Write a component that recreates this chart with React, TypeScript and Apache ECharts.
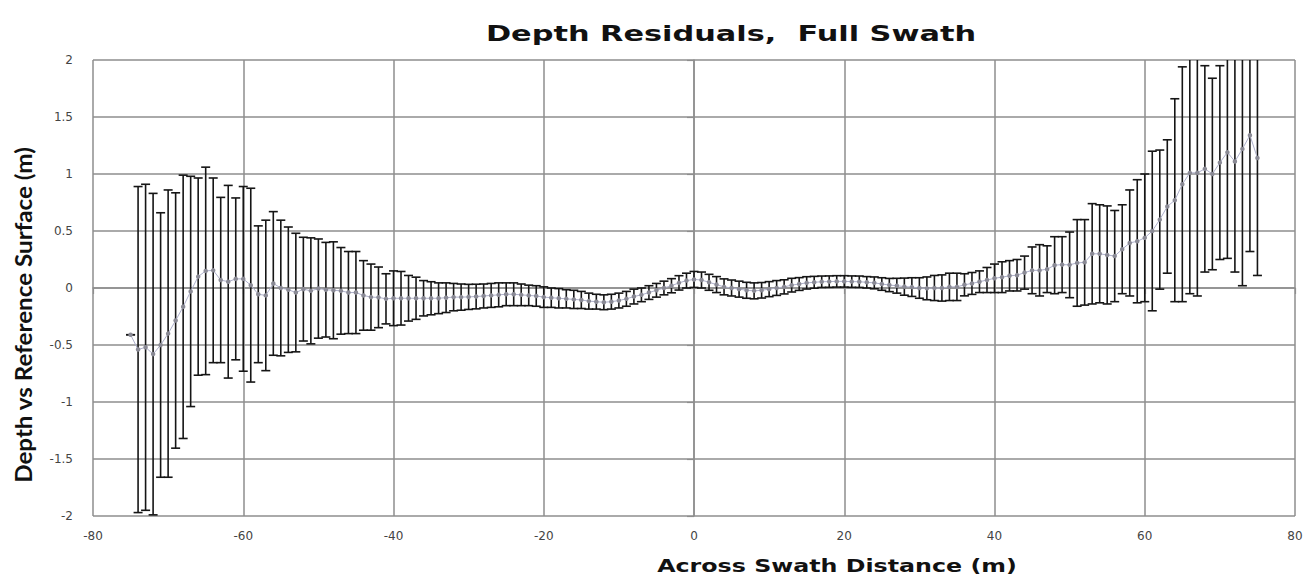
import React, { useEffect, useRef } from "react";
import * as echarts from "echarts";

const TITLE = "Depth Residuals,  Full Swath";
const X_NAME = "Across Swath Distance (m)";
const Y_NAME = "Depth vs Reference Surface (m)";

const X_TICKS = [-80, -60, -40, -20, 0, 20, 40, 60, 80];
const Y_TICKS = [-2, -1.5, -1, -0.5, 0, 0.5, 1, 1.5, 2];

// Across-swath distance (m)
const distances = [
  -75, -74, -73, -72, -71, -70, -69, -68, -67, -66, -65, -64, -63, -62, -61, -60,
  -59, -58, -57, -56, -55, -54, -53, -52, -51, -50, -49, -48, -47, -46, -45, -44,
  -43, -42, -41, -40, -39, -38, -37, -36, -35, -34, -33, -32, -31, -30, -29, -28,
  -27, -26, -25, -24, -23, -22, -21, -20, -19, -18, -17, -16, -15, -14, -13, -12,
  -11, -10, -9, -8, -7, -6, -5, -4, -3, -2, -1, 0, 1, 2, 3, 4,
  5, 6, 7, 8, 9, 10, 11, 12, 13, 14, 15, 16, 17, 18, 19, 20,
  21, 22, 23, 24, 25, 26, 27, 28, 29, 30, 31, 32, 33, 34, 35, 36,
  37, 38, 39, 40, 41, 42, 43, 44, 45, 46, 47, 48, 49, 50, 51, 52,
  53, 54, 55, 56, 57, 58, 59, 60, 61, 62, 63, 64, 65, 66, 67, 68,
  69, 70, 71, 72, 73, 74, 75,
];

// Mean depth residual (m)
const meanResidual = [
  -0.41, -0.54, -0.52, -0.58, -0.5, -0.4, -0.285, -0.165, -0.03, 0.1, 0.15, 0.155, 0.07, 0.055, 0.08, 0.08,
  0.025, -0.055, -0.065, 0.04, 0.0, -0.015, -0.04, -0.01, -0.025, -0.005, -0.015, -0.02, -0.025, -0.04, -0.04, -0.065,
  -0.08, -0.082, -0.095, -0.09, -0.09, -0.09, -0.09, -0.09, -0.09, -0.09, -0.085, -0.08, -0.08, -0.078, -0.075, -0.07,
  -0.065, -0.06, -0.055, -0.055, -0.06, -0.065, -0.07, -0.08, -0.085, -0.09, -0.095, -0.1, -0.105, -0.115, -0.12, -0.125,
  -0.12, -0.11, -0.095, -0.075, -0.06, -0.04, -0.02, 0.0, 0.02, 0.045, 0.065, 0.075, 0.07, 0.05, 0.03, 0.01,
  0.0, -0.01, -0.02, -0.025, -0.02, -0.01, 0.0, 0.01, 0.025, 0.035, 0.045, 0.05, 0.055, 0.056, 0.058, 0.058,
  0.056, 0.055, 0.05, 0.045, 0.035, 0.026, 0.02, 0.012, 0.008, 0.0, -0.003, 0.0, 0.0, 0.01, 0.01, 0.028,
  0.04, 0.055, 0.07, 0.085, 0.095, 0.107, 0.112, 0.135, 0.155, 0.155, 0.165, 0.2, 0.205, 0.203, 0.22, 0.225,
  0.3, 0.3, 0.29, 0.28, 0.34, 0.395, 0.41, 0.44, 0.5, 0.6, 0.715, 0.77, 0.91, 1.01, 1.01, 1.045,
  1.0, 1.1, 1.19, 1.11, 1.22, 1.34, 1.14,
];

// Half-width of the error bar (m)
const errorHalf = [
  0, 1.43, 1.43, 1.41, 1.16, 1.26, 1.12, 1.155, 1.01, 0.865, 0.91, 0.81, 0.725, 0.845, 0.71, 0.81,
  0.85, 0.6, 0.66, 0.63, 0.595, 0.55, 0.52, 0.455, 0.465, 0.435, 0.415, 0.425, 0.38, 0.36, 0.36, 0.305,
  0.29, 0.266, 0.22, 0.24, 0.235, 0.2, 0.185, 0.155, 0.145, 0.135, 0.13, 0.12, 0.115, 0.11, 0.108, 0.105,
  0.105, 0.105, 0.1, 0.1, 0.095, 0.09, 0.09, 0.09, 0.085, 0.085, 0.08, 0.08, 0.075, 0.07, 0.065, 0.065,
  0.065, 0.065, 0.065, 0.065, 0.06, 0.06, 0.06, 0.06, 0.062, 0.063, 0.065, 0.07, 0.07, 0.07, 0.07, 0.07,
  0.07, 0.07, 0.07, 0.07, 0.068, 0.066, 0.065, 0.062, 0.06, 0.056, 0.054, 0.052, 0.05, 0.05, 0.05, 0.05,
  0.05, 0.05, 0.05, 0.052, 0.055, 0.058, 0.065, 0.075, 0.082, 0.09, 0.1, 0.11, 0.115, 0.12, 0.12, 0.097,
  0.096, 0.095, 0.11, 0.125, 0.135, 0.133, 0.138, 0.145, 0.205, 0.225, 0.205, 0.25, 0.245, 0.288, 0.38, 0.375,
  0.44, 0.43, 0.43, 0.4, 0.39, 0.465, 0.54, 0.56, 0.7, 0.61, 0.585, 0.89, 1.03, 1.06, 1.08, 0.905,
  0.84, 0.85, 0.93, 0.97, 1.2, 1.02, 1.03,
];

export default function App() {
  const ref = useRef<HTMLDivElement>(null);

  useEffect(() => {
    if (!ref.current) return;
    const chart = echarts.init(ref.current, null, { renderer: "svg" });

    const errData = distances.map((d, i) => [d, meanResidual[i], errorHalf[i]]);
    const meanData = distances.map((d, i) => [d, meanResidual[i]]);
    const gridColor = "#8e8e8e";

    const option: any = {
      animation: false,
      backgroundColor: "#ffffff",
      grid: { left: 93, right: 17, top: 60, bottom: 61, containLabel: false },
      graphic: [
        {
          type: "text",
          x: 731,
          y: 33,
          scaleX: 1.38,
          style: {
            text: TITLE,
            fill: "#111",
            font: "bold 22px 'DejaVu Sans'",
            textAlign: "center",
            textVerticalAlign: "middle",
          },
        },
        {
          type: "text",
          x: 837,
          y: 566,
          scaleX: 1.32,
          style: {
            text: X_NAME,
            fill: "#111",
            font: "bold 18px 'DejaVu Sans'",
            textAlign: "center",
            textVerticalAlign: "middle",
          },
        },
        {
          type: "text",
          x: 23,
          y: 315,
          rotation: Math.PI / 2,
          scaleX: 1.1,
          style: {
            text: Y_NAME,
            fill: "#111",
            font: "bold 22px Lato",
            textAlign: "center",
            textVerticalAlign: "middle",
          },
        },
      ],
      xAxis: {
        type: "value",
        min: X_TICKS[0],
        max: X_TICKS[X_TICKS.length - 1],
        interval: 20,
        axisLine: { show: true, lineStyle: { color: gridColor, width: 1.5 } },
        axisTick: { show: true, length: 6, lineStyle: { color: gridColor, width: 1.2 } },
        axisLabel: { color: "#444", fontSize: 12, fontFamily: "DejaVu Sans", margin: 14 },
        splitLine: { show: true, lineStyle: { color: gridColor, width: 1.5 } },
      },
      yAxis: {
        type: "value",
        min: Y_TICKS[0],
        max: Y_TICKS[Y_TICKS.length - 1],
        interval: 0.5,
        axisLine: { show: true, lineStyle: { color: gridColor, width: 1.5 } },
        axisTick: { show: true, length: 7, lineStyle: { color: gridColor, width: 1.2 } },
        axisLabel: { color: "#444", fontSize: 12, fontFamily: "DejaVu Sans", margin: 20 },
        splitLine: { show: true, lineStyle: { color: gridColor, width: 1.5 } },
      },
      series: [
        {
          type: "custom",
          data: errData,
          encode: { x: 0, y: 1 },
          clip: true,
          z: 2,
          renderItem: (params: any, api: any) => {
            const x = api.value(0);
            const m = api.value(1);
            const e = api.value(2);
            const top = api.coord([x, m + e]);
            const bot = api.coord([x, m - e]);
            const cs = params.coordSys;
            const yMin = cs.y;
            const yMax = cs.y + cs.height;
            const y1 = Math.max(top[1], yMin);
            const y2 = Math.min(bot[1], yMax);
            const half = 4.5;
            const stroke = { stroke: "#151515", lineWidth: 1.6 };
            const children: any[] = [
              { type: "line", shape: { x1: top[0], y1, x2: top[0], y2 }, style: stroke },
            ];
            if (top[1] >= yMin - 0.5) {
              children.push({
                type: "line",
                shape: { x1: top[0] - half, y1: top[1], x2: top[0] + half, y2: top[1] },
                style: stroke,
              });
            }
            if (bot[1] <= yMax + 0.5) {
              children.push({
                type: "line",
                shape: { x1: bot[0] - half, y1: bot[1], x2: bot[0] + half, y2: bot[1] },
                style: stroke,
              });
            }
            return { type: "group", children };
          },
        },
        {
          type: "line",
          data: meanData,
          z: 3,
          symbol: "circle",
          symbolSize: 4.5,
          showSymbol: true,
          itemStyle: { color: "#8a8a95" },
          lineStyle: { color: "#aeb0cc", width: 1 },
        },
      ],
    };

    chart.setOption(option);
    return () => chart.dispose();
  }, []);

  return (
    <div
      ref={ref}
      style={{ position: "fixed", left: 0, top: 0, width: 1312, height: 577, background: "#fff" }}
    />
  );
}
